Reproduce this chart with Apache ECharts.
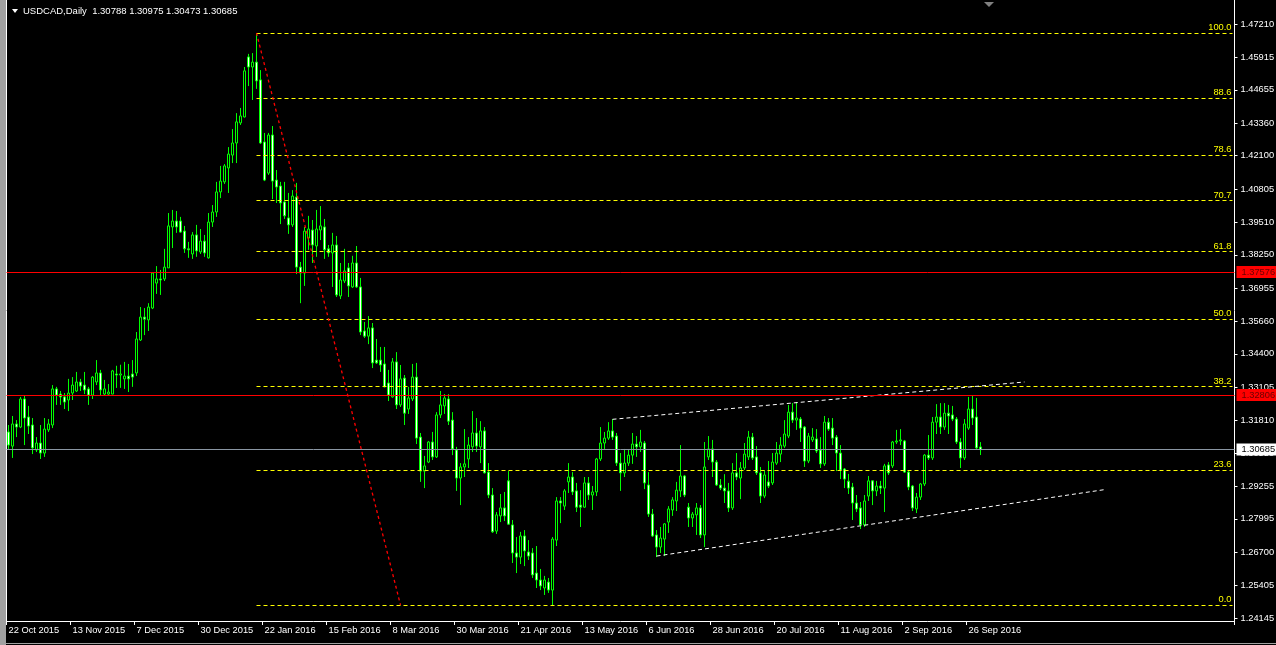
<!DOCTYPE html>
<html><head><meta charset="utf-8">
<script src="https://cdn.jsdelivr.net/npm/echarts@6/dist/echarts.min.js"></script>
<style>html,body{margin:0;padding:0;background:#000;}#c{width:1276px;height:645px;}</style>
</head><body><div id="c"></div>
<script>
// ---------------- DATA ----------------
const symbol = 'USDCAD';
const period = 'Daily';
const firstDate = [2015, 10, 22];            // y, m, d of first bar
const skipDates = ['2015-12-25', '2016-01-01'];
const opens = [
1.3137,1.3082,1.3168,1.3156,1.3265,1.3195,1.3164,1.3067,1.3094,1.3055,
1.3145,1.3164,1.3304,1.3284,1.3273,1.3261,1.3288,1.3296,1.3331,1.3319,
1.3304,1.3280,1.3331,1.3366,1.3284,1.3284,1.3284,1.3362,1.3358,1.3343,
1.3354,1.3362,1.3366,1.3494,1.3583,1.3572,1.3618,1.3715,1.3731,1.3731,
1.3774,1.3933,1.3956,1.3956,1.3917,1.3848,1.3828,1.3902,1.3836,1.3878,
1.3813,1.3952,1.3991,1.4069,1.4108,1.4162,1.4212,1.4259,1.4337,1.4360,
1.4593,1.4554,1.4573,1.4504,1.4263,1.4142,1.4290,1.4115,1.4092,1.4030,
1.3968,1.3941,1.4049,1.3777,1.3754,1.3890,1.3921,1.3859,1.3921,1.3933,
1.3848,1.3832,1.3863,1.3665,1.3723,1.3774,1.3700,1.3793,1.3700,1.3529,
1.3509,1.3541,1.3416,1.3416,1.3401,1.3327,1.3273,1.3409,1.3242,1.3346,
1.3226,1.3265,1.3350,1.3117,1.2985,1.3020,1.3098,1.3040,1.3203,1.3238,
1.3265,1.3183,1.3067,1.2958,1.3001,1.3032,1.3079,1.3133,1.3079,1.3141,
1.2981,1.2892,1.2752,1.2811,1.2842,1.2947,1.2776,1.2667,1.2651,1.2733,
1.2671,1.2667,1.2589,1.2562,1.2531,1.2554,1.2523,1.2717,1.2869,1.2849,
1.2943,1.2962,1.2908,1.2853,1.2845,1.2939,1.2892,1.2904,1.3032,1.3094,
1.3113,1.3141,1.3121,1.3016,1.2978,1.3016,1.3047,1.3090,1.3079,1.3094,
1.2931,1.2818,1.2737,1.2690,1.2721,1.2787,1.2834,1.2869,1.2908,1.2966,
1.2845,1.2803,1.2815,1.2842,1.2737,1.3040,1.3071,1.3020,1.2931,1.2919,
1.2908,1.2842,1.2978,1.2958,1.2997,1.3040,1.3117,1.3040,1.2978,1.2888,
1.2943,1.2939,1.3016,1.3051,1.3082,1.3121,1.3214,1.3183,1.3187,1.3156,
1.3024,1.3106,1.3110,1.3067,1.3013,1.3175,1.3152,1.3117,1.3055,1.2993,
1.2946,1.2923,1.2861,1.2842,1.2776,1.2888,1.2947,1.2908,1.2927,1.2919,
1.3009,1.3005,1.3098,1.3102,1.3102,1.2981,1.2927,1.2838,1.2884,1.2935,
1.3047,1.3036,1.3175,1.3195,1.3156,1.3210,1.3203,1.3187,1.3098,1.3036,
1.3152,1.3226,1.3195,1.30788];
const highs = [
1.3164,1.3199,1.3183,1.3273,1.3277,1.3238,1.3191,1.3117,1.3164,1.3191,
1.3187,1.3319,1.3312,1.3296,1.3288,1.3343,1.3350,1.3370,1.3343,1.3370,
1.3312,1.3354,1.3416,1.3378,1.3339,1.3323,1.3378,1.3394,1.3398,1.3409,
1.3401,1.3416,1.3525,1.3622,1.3618,1.3637,1.3756,1.3781,1.3766,1.3848,
1.3987,1.3999,1.3995,1.3972,1.3937,1.3875,1.3913,1.3941,1.3925,1.3902,
1.3987,1.4018,1.4108,1.4170,1.4177,1.4243,1.4313,1.4375,1.4395,1.4554,
1.4605,1.4608,1.4686,1.4542,1.4298,1.4298,1.4325,1.4154,1.4108,1.4108,
1.4065,1.4076,1.4104,1.3797,1.3933,1.3976,1.3960,1.3999,1.4014,1.3964,
1.3863,1.3910,1.3898,1.3793,1.3848,1.3793,1.3821,1.3859,1.3735,1.3564,
1.3587,1.3560,1.3498,1.3467,1.3467,1.3378,1.3424,1.3447,1.3397,1.3358,
1.3312,1.3401,1.3405,1.3133,1.3044,1.3102,1.3137,1.3214,1.3296,1.3284,
1.3284,1.3214,1.3079,1.3016,1.3148,1.3117,1.3218,1.3191,1.3179,1.3156,
1.3016,1.2919,1.2826,1.2896,1.2904,1.2985,1.2795,1.2729,1.2749,1.2756,
1.2717,1.2686,1.2694,1.2605,1.2578,1.2570,1.2729,1.2884,1.2884,1.2915,
1.3016,1.2981,1.2939,1.2911,1.2962,1.2962,1.2927,1.3036,1.3156,1.3137,
1.3175,1.3187,1.3133,1.3055,1.3071,1.3067,1.3133,1.3121,1.3145,1.3102,
1.2981,1.2838,1.2756,1.2768,1.2783,1.2849,1.2884,1.2943,1.3086,1.2970,
1.2861,1.2826,1.2861,1.2853,1.3098,1.3121,1.3106,1.3028,1.2954,1.2973,
1.2939,1.3016,1.3055,1.3020,1.3094,1.3141,1.3133,1.3082,1.3001,1.2989,
1.3024,1.3055,1.3098,1.3117,1.3183,1.3242,1.3249,1.3253,1.3195,1.3160,
1.3133,1.3152,1.3148,1.3117,1.3199,1.3191,1.3191,1.3125,1.3086,1.2997,
1.2974,1.2939,1.2892,1.2865,1.2892,1.2966,1.2950,1.2947,1.2947,1.3013,
1.3020,1.3102,1.3145,1.3148,1.3106,1.2989,1.2931,1.2900,1.2939,1.3051,
1.3125,1.3195,1.3245,1.3249,1.3249,1.3242,1.3238,1.3195,1.3113,1.3187,
1.3273,1.3277,1.3269,1.30975];
const lows = [
1.3071,1.3036,1.3117,1.3152,1.3086,1.3129,1.3051,1.3059,1.3032,1.3040,
1.3137,1.3152,1.3242,1.3242,1.3226,1.3218,1.3261,1.3292,1.3296,1.3284,
1.3242,1.3265,1.3319,1.3280,1.3280,1.3280,1.3284,1.3308,1.3308,1.3304,
1.3292,1.3312,1.3354,1.3490,1.3513,1.3529,1.3614,1.3673,1.3669,1.3723,
1.3774,1.3851,1.3910,1.3910,1.3832,1.3813,1.3809,1.3817,1.3828,1.3817,
1.3810,1.3933,1.3972,1.4045,1.4100,1.4065,1.4181,1.4181,1.4329,1.4358,
1.4480,1.4426,1.4469,1.4255,1.4111,1.4135,1.4041,1.4026,1.3944,1.3964,
1.3906,1.3933,1.3750,1.3637,1.3704,1.3844,1.3793,1.3817,1.3882,1.3809,
1.3817,1.3700,1.3661,1.3653,1.3715,1.3661,1.3696,1.3696,1.3513,1.3502,
1.3478,1.3385,1.3401,1.3370,1.3310,1.3257,1.3270,1.3226,1.3234,1.3164,
1.3207,1.3257,1.3090,1.2943,1.2919,1.3016,1.3028,1.3036,1.3191,1.3207,
1.3164,1.3047,1.2908,1.2853,1.2962,1.2997,1.3059,1.3059,1.3016,1.2976,
1.2880,1.2745,1.2741,1.2787,1.2791,1.2776,1.2628,1.2589,1.2624,1.2616,
1.2640,1.2570,1.2531,1.2523,1.2504,1.2512,1.2465,1.2694,1.2783,1.2834,
1.2900,1.2892,1.2826,1.2768,1.2842,1.2873,1.2834,1.2888,1.3024,1.3071,
1.3106,1.3106,1.3005,1.2908,1.2962,1.3005,1.3013,1.3040,1.3059,1.2915,
1.2807,1.2729,1.2651,1.2667,1.2655,1.2745,1.2811,1.2830,1.2884,1.2884,
1.2768,1.2768,1.2737,1.2725,1.2690,1.3028,1.2962,1.2927,1.2911,1.2861,
1.2826,1.2834,1.2950,1.2876,1.2989,1.3028,1.3028,1.2970,1.2861,1.2880,
1.2919,1.2931,1.3009,1.3020,1.3075,1.3113,1.3172,1.3145,1.3098,1.3001,
1.3016,1.3098,1.3055,1.2997,1.3005,1.3141,1.3086,1.2985,1.2954,1.2919,
1.2896,1.2795,1.2826,1.2760,1.2768,1.2869,1.2853,1.2888,1.2896,1.2826,
1.2970,1.2997,1.3090,1.3086,1.2978,1.2911,1.2830,1.2822,1.2873,1.2927,
1.3028,1.3028,1.3129,1.3129,1.3145,1.3129,1.3179,1.3090,1.2997,1.3028,
1.3145,1.3164,1.3067,1.30473];
const closes = [
1.3086,1.3168,1.3156,1.3265,1.3191,1.3160,1.3075,1.3094,1.3055,1.3148,
1.3168,1.3304,1.3280,1.3273,1.3253,1.3288,1.3319,1.3331,1.3315,1.3300,
1.3280,1.3350,1.3366,1.3300,1.3304,1.3292,1.3374,1.3358,1.3362,1.3354,
1.3343,1.3350,1.3498,1.3583,1.3575,1.3622,1.3754,1.3731,1.3727,1.3777,
1.3937,1.3956,1.3933,1.3913,1.3848,1.3844,1.3902,1.3840,1.3878,1.3832,
1.3952,1.3991,1.4069,1.4111,1.4170,1.4216,1.4259,1.4341,1.4364,1.4539,
1.4554,1.4573,1.4500,1.4259,1.4115,1.4290,1.4111,1.4088,1.4026,1.3976,
1.3941,1.4053,1.3777,1.3754,1.3917,1.3925,1.3863,1.3925,1.3937,1.3844,
1.3832,1.3863,1.3669,1.3727,1.3762,1.3704,1.3793,1.3700,1.3525,1.3509,
1.3541,1.3405,1.3405,1.3397,1.3312,1.3280,1.3409,1.3242,1.3343,1.3210,
1.3269,1.3350,1.3113,1.2985,1.3005,1.3098,1.3040,1.3203,1.3242,1.3269,
1.3179,1.3071,1.2958,1.3001,1.3013,1.3086,1.3133,1.3082,1.3141,1.2978,
1.2892,1.2749,1.2815,1.2842,1.2811,1.2779,1.2667,1.2651,1.2733,1.2675,
1.2655,1.2582,1.2562,1.2539,1.2562,1.2523,1.2721,1.2869,1.2861,1.2908,
1.2962,1.2904,1.2845,1.2845,1.2939,1.2892,1.2904,1.3032,1.3094,1.3113,
1.3141,1.3117,1.3016,1.2978,1.3016,1.3047,1.3090,1.3079,1.3098,1.2939,
1.2818,1.2733,1.2690,1.2725,1.2780,1.2838,1.2873,1.2911,1.2966,1.2892,
1.2803,1.2818,1.2842,1.2737,1.3001,1.3071,1.3020,1.2931,1.2919,1.2908,
1.2842,1.2978,1.2962,1.2997,1.3051,1.3117,1.3036,1.2978,1.2888,1.2970,
1.2927,1.3020,1.3055,1.3086,1.3129,1.3214,1.3183,1.3191,1.3152,1.3024,
1.3121,1.3117,1.3063,1.3013,1.3175,1.3148,1.3113,1.3055,1.2989,1.2954,
1.2919,1.2861,1.2838,1.2776,1.2869,1.2947,1.2908,1.2927,1.2919,1.3005,
1.2978,1.3098,1.3102,1.3106,1.2981,1.2923,1.2842,1.2884,1.2935,1.3047,
1.3036,1.3175,1.3195,1.3156,1.3210,1.3199,1.3187,1.3098,1.3036,1.3168,
1.3226,1.3191,1.3075,1.30685];
const yTickLabels = ['1.47210','1.45915','1.44655','1.43360','1.42100','1.40805','1.39510','1.38250','1.36955','1.35660','1.34400','1.33105','1.31810','1.30550','1.29255','1.27995','1.26700','1.25405','1.24145'];
const fibLevels = [100.0, 88.6, 78.6, 70.7, 61.8, 50.0, 38.2, 23.6, 0.0];
const fibHigh = 1.4686, fibHighBar = 62;
const fibLow = 1.2465, fibLowBar = 98;
const redLevels = [1.37576, 1.32806];
const channelUpper = [[151, 1.3186], [254, 1.3331]];
const channelLower = [[162, 1.2655], [274, 1.2913]];
const labelEvery = 16;

// ---------------- BUILD ----------------
const nBars = opens.length;
const nCats = 307;            // bars + empty chart-shift space on the right
const MONTHS = ['Jan','Feb','Mar','Apr','May','Jun','Jul','Aug','Sep','Oct','Nov','Dec'];
const categories = [];
(function(){
  let d = new Date(Date.UTC(firstDate[0], firstDate[1]-1, firstDate[2]));
  while (categories.length < nCats) {
    const wd = d.getUTCDay();
    const iso = d.toISOString().slice(0,10);
    if (wd !== 0 && wd !== 6 && skipDates.indexOf(iso) < 0)
      categories.push(d.getUTCDate() + ' ' + MONTHS[d.getUTCMonth()] + ' ' + d.getUTCFullYear());
    d.setUTCDate(d.getUTCDate() + 1);
  }
})();
const candles = opens.map((o,i) => [o, closes[i], lows[i], highs[i]]);
const lastClose = closes[nBars-1];
const header = symbol + ',' + period + '  ' +
  [opens[nBars-1], highs[nBars-1], lows[nBars-1], closes[nBars-1]].map(v => v.toFixed(5)).join(' ');
const yTicks = yTickLabels.map(parseFloat);
const showIdx = (idx) => idx % labelEvery === 0 && idx < nBars;

const FONT = 'Liberation Sans, Arial, sans-serif';
const FS = 9.3;

const mlData = [];
fibLevels.forEach(lv => {
  const p = fibLow + (fibHigh - fibLow) * lv / 100;
  mlData.push([
    {coord: [fibHighBar, p], lineStyle: {color: '#ffff00', type: [4, 3], width: 1},
     label: {show: true, position: 'insideEndTop', formatter: lv.toFixed(1), color: '#ffff00',
             fontSize: FS, fontFamily: FONT, distance: [1, 1]}},
    {coord: [nCats - 1, p]}
  ]);
});
mlData.push([
  {coord: [fibHighBar, fibHigh], lineStyle: {color: '#ff0000', type: [3, 3], width: 1.3}, label: {show: false}},
  {coord: [fibLowBar, fibLow]}
]);
[channelUpper, channelLower].forEach(c => {
  mlData.push([
    {coord: c[0], lineStyle: {color: '#ffffff', type: [4, 3], width: 1}, label: {show: false}},
    {coord: c[1]}
  ]);
});
redLevels.forEach(p => {
  mlData.push({yAxis: p, lineStyle: {color: '#ff0000', type: 'solid', width: 1},
    label: {show: true, position: 'end', formatter: p.toFixed(5), backgroundColor: '#ff0000',
            color: '#6a0000', fontSize: FS, fontFamily: FONT, padding: [2, 4, 1, 5], distance: 2}});
});
mlData.push({yAxis: lastClose, lineStyle: {color: '#8a96a3', type: 'solid', width: 1},
  label: {show: true, position: 'end', formatter: lastClose.toFixed(5), backgroundColor: '#ffffff',
          color: '#000000', fontSize: FS, fontFamily: FONT, padding: [2, 4, 1, 5], distance: 2}});

const chart = echarts.init(document.getElementById('c'), null, {renderer: 'canvas'});
chart.setOption({
  backgroundColor: '#000000',
  animation: false,
  title: {text: header, left: 23, top: 6, padding: 0,
          textStyle: {color: '#ffffff', fontSize: 9.5, fontWeight: 'normal', fontFamily: FONT}},
  grid: {left: 6.5, right: 41.5, top: 0, bottom: 24, outerBoundsMode: 'none', containLabel: false},
  xAxis: {
    type: 'category', data: categories, boundaryGap: true,
    axisLine: {show: true, onZero: false, lineStyle: {color: '#ffffff', width: 1}},
    axisTick: {show: true, length: 4, interval: showIdx, lineStyle: {color: '#ffffff'}},
    axisLabel: {interval: showIdx, align: 'left', color: '#ffffff', fontSize: FS, fontFamily: FONT, margin: 5},
    splitLine: {show: false}
  },
  yAxis: [{
    type: 'value', position: 'right', min: 1.24029, max: 1.48142,
    axisLine: {show: true, lineStyle: {color: '#ffffff', width: 1}},
    axisTick: {show: true, length: 3, customValues: yTicks, lineStyle: {color: '#ffffff'}},
    axisLabel: {customValues: yTicks, formatter: v => v.toFixed(5), color: '#ffffff',
                fontSize: FS, fontFamily: FONT, margin: 6},
    splitLine: {show: false}
  }, {
    type: 'value', position: 'left', min: 1.24029, max: 1.48142,
    axisLine: {show: true, lineStyle: {color: '#ffffff', width: 1}},
    axisTick: {show: false}, axisLabel: {show: false}, splitLine: {show: false}
  }],
  series: [{
    type: 'candlestick', data: candles, barWidth: 2, yAxisIndex: 0,
    itemStyle: {color: '#000000', color0: '#ffffff', borderColor: '#00ff00', borderColor0: '#00ff00',
                borderColorDoji: '#00ff00', borderWidth: 1},
    emphasis: {disabled: true},
    markLine: {symbol: ['none', 'none'], silent: true, animation: false, precision: 5, data: mlData}
  }],
  graphic: [
    {type: 'rect', left: 0, top: 0, shape: {width: 6, height: 645}, style: {fill: '#a0a0a0'}, silent: true},
    {type: 'line', shape: {x1: 0, y1: 643.5, x2: 1276, y2: 643.5}, style: {stroke: '#a0a0a0', lineWidth: 1}, silent: true},
    {type: 'polygon', shape: {points: [[12, 9], [18, 9], [15, 13]]}, style: {fill: '#ffffff'}, silent: true},
    {type: 'polygon', shape: {points: [[984, 2], [994, 2], [989, 7]]}, style: {fill: '#808080'}, silent: true}
  ]
});
</script>
</body></html>
